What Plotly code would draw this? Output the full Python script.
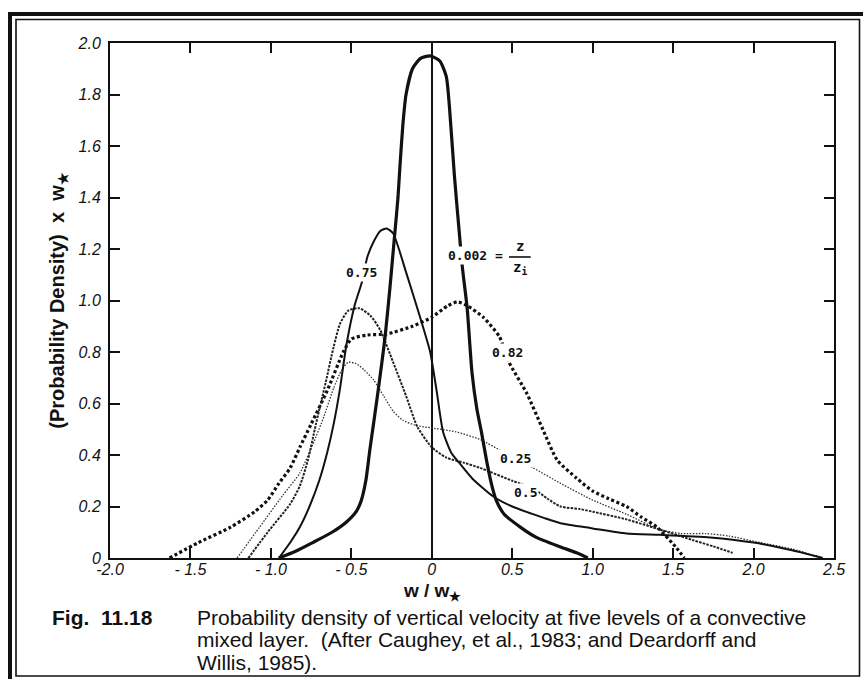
import plotly.graph_objects as go

W, H = 863, 679
L, R, T, B = 110, 29, 43, 121

# ---------------- data ----------------
x_0002 = [-0.95, -0.85, -0.74, -0.62, -0.53, -0.47, -0.44, -0.41, -0.385, -0.36, -0.34, -0.31, -0.29,
          -0.26, -0.23, -0.21, -0.20, -0.18, -0.16, -0.12, -0.07, -0.01, 0.05, 0.09, 0.11, 0.14,
          0.17, 0.19, 0.22, 0.25, 0.28, 0.31, 0.34, 0.37, 0.40, 0.45, 0.55, 0.65, 0.80, 0.90, 0.97]
y_0002 = [0.0, 0.025, 0.06, 0.10, 0.14, 0.18, 0.22, 0.30, 0.42, 0.53, 0.62, 0.76, 0.86,
          1.05, 1.26, 1.40, 1.50, 1.68, 1.80, 1.90, 1.94, 1.95, 1.93, 1.87, 1.75, 1.49,
          1.27, 1.13, 0.97, 0.72, 0.58, 0.485, 0.38, 0.29, 0.225, 0.17, 0.12, 0.08, 0.043, 0.02, 0.0]

x_075 = [-0.95, -0.88, -0.82, -0.76, -0.70, -0.65, -0.61, -0.57, -0.53, -0.48, -0.435, -0.40, -0.36,
         -0.32, -0.28, -0.24, -0.16, -0.075, -0.01, 0.03, 0.07, 0.12, 0.17, 0.25, 0.38, 0.50, 0.70,
         0.80, 1.00, 1.21, 1.42, 1.73, 2.00, 2.24, 2.43]
y_075 = [0.0, 0.06, 0.12, 0.20, 0.30, 0.41, 0.52, 0.66, 0.83, 0.98, 1.07, 1.17, 1.23,
         1.27, 1.28, 1.26, 1.11, 0.94, 0.80, 0.65, 0.49, 0.41, 0.37, 0.31, 0.24, 0.20, 0.155,
         0.135, 0.115, 0.095, 0.09, 0.08, 0.06, 0.03, 0.0]

x_082 = [-1.63, -1.45, -1.25, -1.10, -1.02, -0.95, -0.88, -0.82, -0.75, -0.65, -0.55, -0.50, -0.40,
         -0.28, -0.12, 0.0, 0.10, 0.16, 0.22, 0.32, 0.42, 0.48, 0.59, 0.69, 0.78, 0.90, 1.00,
         1.10, 1.21, 1.30, 1.40, 1.52, 1.57]
y_082 = [0.0, 0.06, 0.12, 0.18, 0.225, 0.29, 0.35, 0.43, 0.52, 0.65, 0.80, 0.85, 0.866,
         0.87, 0.90, 0.935, 0.98, 0.995, 0.98, 0.935, 0.86, 0.76, 0.64, 0.50, 0.38, 0.31, 0.26,
         0.23, 0.20, 0.16, 0.12, 0.04, 0.0]

x_050 = [-1.14, -1.02, -0.88, -0.82, -0.77, -0.72, -0.66, -0.61, -0.57, -0.52, -0.45, -0.38, -0.32,
         -0.24, -0.16, -0.09, 0.0, 0.09, 0.20, 0.30, 0.50, 0.63, 0.72, 0.80, 0.92, 1.00, 1.21,
         1.42, 1.62, 1.75, 1.87]
y_050 = [0.0, 0.10, 0.21, 0.28, 0.38, 0.52, 0.68, 0.82, 0.91, 0.96, 0.97, 0.94, 0.885,
         0.76, 0.63, 0.51, 0.43, 0.39, 0.37, 0.35, 0.30, 0.27, 0.23, 0.20, 0.19, 0.18, 0.15,
         0.11, 0.07, 0.045, 0.02]

x_025 = [-1.21, -1.07, -0.93, -0.82, -0.74, -0.67, -0.61, -0.56, -0.52, -0.47, -0.42, -0.36, -0.30,
         -0.24, -0.18, -0.10, 0.0, 0.15, 0.30, 0.45, 0.63, 0.80, 1.00, 1.21, 1.42, 1.55, 1.70,
         1.85, 2.04, 2.24, 2.43]
y_025 = [0.0, 0.12, 0.24, 0.33, 0.44, 0.55, 0.66, 0.73, 0.76, 0.755, 0.73, 0.69, 0.63,
         0.57, 0.535, 0.515, 0.505, 0.49, 0.46, 0.41, 0.35, 0.29, 0.225, 0.17, 0.11, 0.095, 0.095,
         0.085, 0.06, 0.035, 0.0]

x_ticks = [-2.0, -1.5, -1.0, -0.5, 0.0, 0.5, 1.0, 1.5, 2.0, 2.5]
x_ticktext = ["-2.0", "- 1.5", "- 1.0", "- 0.5", "0", "0.5", "1.0", "1.5", "2.0", "2.5"]
y_ticks = [0.0, 0.2, 0.4, 0.6, 0.8, 1.0, 1.2, 1.4, 1.6, 1.8, 2.0]
y_ticktext = ["0", "0.2", "0.4", "0.6", "0.8", "1.0", "1.2", "1.4", "1.6", "1.8", "2.0"]

curve_labels = ["0.75", "0.82", "0.25", "0.5"]
label_pos = [(-0.435, 1.11), (0.472, 0.80), (0.522, 0.388), (0.584, 0.256)]

caption_head = "Fig.&nbsp; 11.18"
caption_lines = [
    "Probability density of vertical velocity at five levels of a convective",
    "mixed layer.&nbsp; (After Caughey, et al., 1983; and Deardorff and",
    "Willis, 1985).",
]

# ---------------- figure ----------------
INK = "#111111"
fig = go.Figure()

def add(x, y, width, dash, color=INK):
    fig.add_trace(go.Scatter(x=x, y=y, mode="lines", hoverinfo="skip", showlegend=False,
                             line=dict(color=color, width=width, dash=dash,
                                       shape="spline", smoothing=0.6)))

add(x_082, y_082, 3.2, "3px,2.5px")
add(x_025, y_025, 1.3, "1.5px,1.5px", "#333333")
add(x_050, y_050, 2.0, "2.5px,1.2px", "#222222")
add(x_075, y_075, 2.0, "solid")
add(x_0002, y_0002, 3.2, "solid")

axis_common = dict(showline=True, linewidth=2, linecolor=INK, mirror="ticks",
                   ticks="inside", ticklen=10, tickwidth=2, tickcolor=INK,
                   showgrid=False,
                   tickfont=dict(family="Liberation Sans", size=16, style="italic", color=INK))

fig.update_xaxes(range=[-2.0, 2.5], tickvals=x_ticks, ticktext=x_ticktext,
                 zeroline=True, zerolinecolor=INK, zerolinewidth=1.6,
                 ticklabelstandoff=-4, **axis_common)
star = "<sub><b>\u2605</b></sub>"
fig.update_yaxes(range=[0, 2.0], tickvals=y_ticks, ticktext=y_ticktext, zeroline=False,
                 ticklabelstandoff=4,
                 title=dict(text="<b>(Probability Density)&nbsp; x&nbsp; w</b>" + star,
                            font=dict(family="Liberation Sans", size=20, color=INK),
                            standoff=8),
                 **axis_common)

def px2x(p):
    return (p - L) / (W - L - R)

def py2y(q):
    return (H - B - q) / (H - T - B)

annotations = []
# x-axis title centred on w = 0
annotations.append(dict(x=0, xref="x", y=py2y(592), yref="paper", yanchor="middle",
                        text="<b>w / w</b>" + star, showarrow=False,
                        font=dict(family="Liberation Sans", size=19, color=INK)))
# curve labels
lab_font = dict(family="DejaVu Sans Mono", size=13, color=INK, weight="bold")
for t, (lx, ly) in zip(curve_labels, label_pos):
    annotations.append(dict(x=lx, y=ly, xref="x", yref="y", text=t, showarrow=False,
                            font=lab_font, bgcolor="white", borderpad=1))
annotations.append(dict(x=0.087, y=1.176, xref="x", yref="y", text="0.002 =",
                        showarrow=False, xanchor="left", font=lab_font,
                        bgcolor="white", borderpad=1))
annotations.append(dict(x=0.547, y=1.21, xref="x", yref="y", text="z",
                        showarrow=False, font=dict(family="DejaVu Sans Mono", size=14,
                                                   color=INK, weight="bold")))
annotations.append(dict(x=0.55, y=1.125, xref="x", yref="y", text="z<sub>i</sub>",
                        showarrow=False, font=dict(family="DejaVu Sans Mono", size=14,
                                                   color=INK, weight="bold")))
# caption
cap_font = dict(family="Liberation Sans", size=21, color=INK)
annotations.append(dict(x=px2x(50), y=py2y(617), xref="paper", yref="paper",
                        text="<b>" + caption_head + "</b>", showarrow=False,
                        xanchor="left", yanchor="middle", font=cap_font))
for i, line in enumerate(caption_lines):
    annotations.append(dict(x=px2x(195), y=py2y(617 + 22.5 * i), xref="paper", yref="paper",
                            text=line, showarrow=False, xanchor="left", yanchor="middle",
                            font=cap_font))

shapes = []
# fraction bar
shapes.append(dict(type="line", xref="x", yref="y", x0=0.48, x1=0.615, y0=1.169, y1=1.169,
                   line=dict(color=INK, width=1.6)))
# page frame (double rule on left/top)
shapes.append(dict(type="line", xref="paper", yref="paper", x0=px2x(10), x1=px2x(10),
                   y0=py2y(12), y1=py2y(679), line=dict(color=INK, width=4)))
shapes.append(dict(type="line", xref="paper", yref="paper", x0=px2x(8), x1=px2x(863),
                   y0=py2y(14), y1=py2y(14), line=dict(color=INK, width=4)))
shapes.append(dict(type="rect", xref="paper", yref="paper", x0=px2x(16), x1=px2x(859.5),
                   y0=py2y(676), y1=py2y(19.5), line=dict(color=INK, width=1.6)))

fig.update_layout(width=W, height=H, margin=dict(l=L, r=R, t=T, b=B),
                  paper_bgcolor="white", plot_bgcolor="white",
                  annotations=annotations, shapes=shapes, showlegend=False)

fig.write_html("out.html")
